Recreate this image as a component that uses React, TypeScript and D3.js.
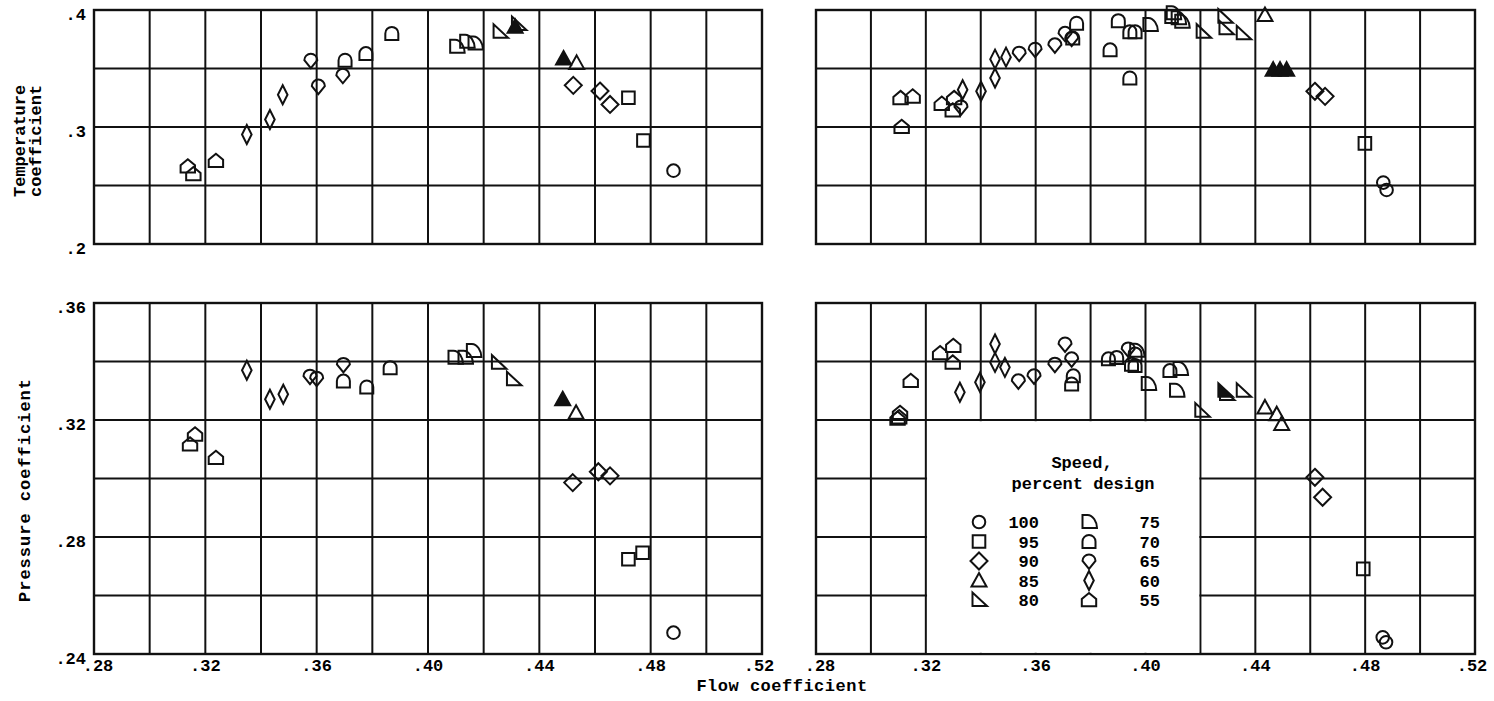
import React from "react";
import * as d3 from "d3";

// ---------- data ----------
// [speed (percent design), flow coefficient, coefficient, filled(1) ]
const tempLeft: number[][] = [
  [55, 0.3137, 0.2664], [55, 0.3157, 0.2598], [55, 0.3238, 0.2712],
  [60, 0.3349, 0.2936], [60, 0.3432, 0.3064], [60, 0.3478, 0.3276],
  [65, 0.3579, 0.3571], [65, 0.3606, 0.335], [65, 0.3694, 0.3442],
  [70, 0.3702, 0.3571], [70, 0.3777, 0.3628], [70, 0.387, 0.38],
  [75, 0.4103, 0.3685], [75, 0.4139, 0.3728], [75, 0.4169, 0.3714],
  [80, 0.4259, 0.3814], [80, 0.4325, 0.388], [85, 0.4313, 0.3857, 1],
  [85, 0.4487, 0.3585, 1], [85, 0.4534, 0.3548],
  [90, 0.4522, 0.3356], [90, 0.4618, 0.3307], [90, 0.4654, 0.3193],
  [95, 0.472, 0.325], [95, 0.4774, 0.2884],
  [100, 0.4882, 0.2627],
];

const tempRight: number[][] = [
  [55, 0.3108, 0.3249], [55, 0.3152, 0.3262], [55, 0.3112, 0.3002],
  [55, 0.3258, 0.32], [55, 0.3303, 0.3249], [55, 0.3298, 0.3143], [65, 0.3328, 0.3172],
  [60, 0.3334, 0.3319], [60, 0.3401, 0.3305], [60, 0.3452, 0.3419], [60, 0.3452, 0.358], [60, 0.3492, 0.3597],
  [65, 0.354, 0.3631], [65, 0.3598, 0.3665], [65, 0.367, 0.3702], [65, 0.3707, 0.3801], [65, 0.3731, 0.3759],
  [70, 0.3749, 0.3887], [70, 0.3735, 0.376],
  [70, 0.3871, 0.366], [70, 0.3901, 0.3909], [70, 0.3943, 0.3419], [70, 0.3943, 0.3815], [70, 0.3962, 0.3815],
  [75, 0.4016, 0.3872],
  [75, 0.4101, 0.3972], [95, 0.4095, 0.3943], [75, 0.4119, 0.3929], [75, 0.4132, 0.39],
  [80, 0.421, 0.3815], [80, 0.4289, 0.3943], [80, 0.4293, 0.3844], [80, 0.4356, 0.3801],
  [85, 0.4435, 0.3957],
  [85, 0.4465, 0.349, 1], [85, 0.449, 0.349, 1], [85, 0.4514, 0.349, 1],
  [90, 0.4617, 0.3305], [90, 0.4654, 0.3262],
  [95, 0.4799, 0.286],
  [100, 0.4866, 0.2525], [100, 0.4878, 0.2462],
];

const pressLeft: number[][] = [
  [55, 0.3145, 0.3117], [55, 0.3163, 0.3151], [55, 0.3238, 0.3071],
  [60, 0.3349, 0.337], [60, 0.3432, 0.3271], [60, 0.348, 0.3288],
  [65, 0.3576, 0.335], [65, 0.36, 0.3343], [65, 0.3696, 0.339],
  [70, 0.3696, 0.3333], [70, 0.378, 0.3313], [70, 0.3864, 0.3379],
  [75, 0.4097, 0.3413], [75, 0.4133, 0.3413], [75, 0.4163, 0.3436],
  [80, 0.4253, 0.3396], [80, 0.4307, 0.3339],
  [85, 0.4484, 0.3271, 1], [85, 0.4532, 0.3225],
  [90, 0.452, 0.2986], [90, 0.4612, 0.3023], [90, 0.4654, 0.3009],
  [95, 0.472, 0.2724], [95, 0.4771, 0.2746],
  [100, 0.4882, 0.2473],
];

const pressRight: number[][] = [
  [55, 0.3097, 0.3205], [55, 0.3106, 0.3225], [55, 0.3103, 0.321],
  [55, 0.3145, 0.3334],
  [55, 0.3252, 0.3429], [55, 0.33, 0.3454], [55, 0.3298, 0.3397],
  [60, 0.3324, 0.3295], [60, 0.3397, 0.3329], [60, 0.3452, 0.346], [60, 0.3452, 0.3397], [60, 0.3488, 0.338],
  [65, 0.3537, 0.3334], [65, 0.3594, 0.3351], [65, 0.367, 0.3391], [65, 0.3707, 0.346], [65, 0.3731, 0.3409],
  [70, 0.3737, 0.3351], [70, 0.3731, 0.3323],
  [70, 0.3865, 0.3409], [70, 0.3895, 0.3414], [65, 0.3937, 0.3443], [70, 0.3949, 0.3391], [70, 0.3962, 0.3426],
  [75, 0.3968, 0.3437], [70, 0.3962, 0.3386],
  [75, 0.401, 0.3323],
  [70, 0.4089, 0.3369], [75, 0.4126, 0.3374], [75, 0.4113, 0.33],
  [80, 0.4205, 0.3232],
  [80, 0.4289, 0.33, 1], [80, 0.4295, 0.3289], [80, 0.4356, 0.33],
  [85, 0.4435, 0.3243], [85, 0.4478, 0.322], [85, 0.4496, 0.3186],
  [90, 0.4617, 0.3004], [90, 0.4645, 0.2936],
  [95, 0.4793, 0.2691],
  [100, 0.4864, 0.2457], [100, 0.4876, 0.244],
];

const legendLeft = [100, 95, 90, 85, 80];
const legendRight = [75, 70, 65, 60, 55];

const xTickLabels = [".28", ".32", ".36", ".40", ".44", ".48", ".52"];
const tempTickLabels = [".4", ".3", ".2"];
const pressTickLabels = [".36", ".32", ".28", ".24"];

// ---------- layout ----------
const W = 1494, H = 701;
const FONT = "'Liberation Mono', 'Courier New', monospace";
const FS = 17;

const leftX: [number, number] = [94, 762];
const rightX: [number, number] = [816, 1475];
const topY: [number, number] = [244, 10];
const botY: [number, number] = [654, 303];

function symbolPath(speed: number): string {
  switch (speed) {
    case 100: return "M6.3,0A6.3,6.3 0 1 1 -6.3,0A6.3,6.3 0 1 1 6.3,0Z";
    case 95: return "M-6.3,-6.3L6.3,-6.3L6.3,6.3L-6.3,6.3Z";
    case 90: return "M0,-8.5L8.5,0L0,8.5L-8.5,0Z";
    case 85: return "M0,-7.5L7.5,6L-7.5,6Z";
    case 80: return "M-6.5,-7.5L-6.5,6L8,6Z";
    case 75: return "M-6.5,-7L-1.5,-7C4,-7 8,0 8,6L-6.5,6Z";
    case 70: return "M-6.5,6.5L-6.5,0A6.5,6.5 0 0 1 6.5,0L6.5,6.5Z";
    case 65: return "M-6.5,0A6.5,6.5 0 0 1 6.5,0L0,8Z";
    case 60: return "M0,-9.5L4.8,0L0,9.5L-4.8,0Z";
    case 55: return "M0,-7L7.2,-1L7.2,6.3L-7.2,6.3L-7.2,-1Z";
    default: return "";
  }
}

type PanelProps = {
  xr: [number, number];
  yr: [number, number];
  yDomain: [number, number];
  yStep: number;
  data: number[][];
  yLabels?: string[];
  showX?: boolean;
  legend?: boolean;
};

function Panel({ xr, yr, yDomain, yStep, data, yLabels, showX, legend }: PanelProps) {
  const x = d3.scaleLinear().domain([0.28, 0.52]).range(xr);
  const y = d3.scaleLinear().domain(yDomain).range(yr);
  const xGrid = d3.range(0, 13).map((i) => 0.28 + i * 0.02);
  const nY = Math.round((yDomain[1] - yDomain[0]) / yStep);
  const yGrid = d3.range(0, nY + 1).map((i) => yDomain[0] + i * yStep);
  const labelVals = yLabels ? yLabels.map((s) => +("0" + s)) : [];
  const xLabelVals = xTickLabels.map((s) => +("0" + s));
  return (
    <g>
      {xGrid.map((v, i) => (
        <line key={"vx" + i} x1={x(v)} x2={x(v)} y1={yr[0]} y2={yr[1]} stroke="#111" strokeWidth={2} />
      ))}
      {yGrid.map((v, i) => (
        <line key={"hy" + i} x1={xr[0]} x2={xr[1]} y1={y(v)} y2={y(v)} stroke="#111" strokeWidth={2} />
      ))}
      <rect x={xr[0]} y={yr[1]} width={xr[1] - xr[0]} height={yr[0] - yr[1]} fill="none" stroke="#111" strokeWidth={2.4} />
      {legend && (
        <g>
          <rect x={x(0.32) + 1.2} y={y(0.32) + 1.2} width={x(0.42) - x(0.32) - 2.4} height={y(0.24) - y(0.32) - 2.4} fill="#fff" />
          <text x={1082} y={468} textAnchor="middle" fontFamily={FONT} fontSize={FS} fontWeight={700}>Speed,</text>
          <text x={1083} y={489} textAnchor="middle" fontFamily={FONT} fontSize={FS} fontWeight={700}>percent design</text>
          {legendLeft.map((s, i) => (
            <g key={"ll" + s}>
              <path d={symbolPath(s)} transform={`translate(979,${522 + i * 19.5})`} fill="#fff" stroke="#111" strokeWidth={2} />
              <text x={1039} y={528 + i * 19.5} textAnchor="end" fontFamily={FONT} fontSize={FS} fontWeight={700}>{s}</text>
            </g>
          ))}
          {legendRight.map((s, i) => (
            <g key={"lr" + s}>
              <path d={symbolPath(s)} transform={`translate(1089,${522 + i * 19.5})`} fill="#fff" stroke="#111" strokeWidth={2} />
              <text x={1160} y={528 + i * 19.5} textAnchor="end" fontFamily={FONT} fontSize={FS} fontWeight={700}>{s}</text>
            </g>
          ))}
        </g>
      )}
      {data.map((d, i) => (
        <path
          key={"p" + i}
          d={symbolPath(d[0])}
          transform={`translate(${x(d[1])},${y(d[2])})`}
          fill={d[3] ? "#111" : "none"}
          stroke="#111"
          strokeWidth={2}
        />
      ))}
      {yLabels &&
        yLabels.map((s, i) => (
          <text key={"yl" + i} x={86} y={y(labelVals[i]) + 10} textAnchor="end" fontFamily={FONT} fontSize={FS} fontWeight={700}>{s}</text>
        ))}
      {showX &&
        xTickLabels.map((s, i) => (
          <text key={"xl" + i} x={x(xLabelVals[i]) + (i === 0 ? 4 : i === xTickLabels.length - 1 ? -3 : 0)} y={671} textAnchor="middle" fontFamily={FONT} fontSize={FS} fontWeight={700}>{s}</text>
        ))}
    </g>
  );
}

export default function App() {
  return (
    <svg width={W} height={H} viewBox={`0 0 ${W} ${H}`} style={{ position: "absolute", left: 0, top: 0, background: "#fff" }}>
      <rect x={0} y={0} width={W} height={H} fill="#fff" />
      <Panel xr={leftX} yr={topY} yDomain={[0.2, 0.4]} yStep={0.05} data={tempLeft} yLabels={tempTickLabels} />
      <Panel xr={rightX} yr={topY} yDomain={[0.2, 0.4]} yStep={0.05} data={tempRight} />
      <Panel xr={leftX} yr={botY} yDomain={[0.24, 0.36]} yStep={0.02} data={pressLeft} yLabels={pressTickLabels} showX />
      <Panel xr={rightX} yr={botY} yDomain={[0.24, 0.36]} yStep={0.02} data={pressRight} showX legend />
      <text transform="translate(25,197) rotate(-90)" fontFamily={FONT} fontSize={FS} fontWeight={700}>Temperature</text>
      <text transform="translate(41,197) rotate(-90)" fontFamily={FONT} fontSize={FS} fontWeight={700}>coefficient</text>
      <text transform="translate(30,490) rotate(-90)" textAnchor="middle" fontFamily={FONT} fontSize={FS} fontWeight={700} letterSpacing={1}>Pressure coefficient</text>
      <text x={782} y={691} textAnchor="middle" fontFamily={FONT} fontSize={FS} fontWeight={700} letterSpacing={0.5}>Flow coefficient</text>
    </svg>
  );
}
